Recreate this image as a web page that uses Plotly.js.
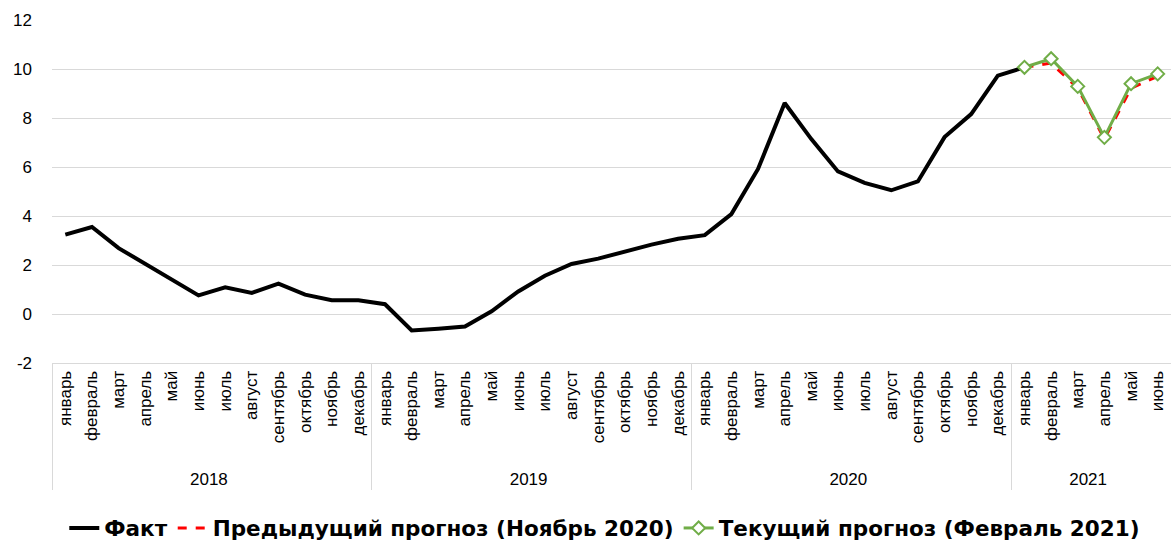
<!DOCTYPE html>
<html>
<head>
<meta charset="utf-8">
<script src="https://cdn.plot.ly/plotly-3.0.1.min.js"></script>
<style>html,body{margin:0;padding:0;background:#fff;}#chart{width:1171px;height:541px;}</style>
</head>
<body>
<div id="chart"></div>
<script>
const years = ['2018', '2019', '2020', '2021'];
const months = ['январь','февраль','март','апрель','май','июнь','июль','август','сентябрь','октябрь','ноябрь','декабрь'];
const monthsPerYear = [12, 12, 12, 6];
const yTickVals = [-2, 0, 2, 4, 6, 8, 10, 12];
const yTickText = ['-2', '0', '2', '4', '6', '8', '10', '12'];

// Факт: январь 2018 – январь 2021
const fact = [3.24,3.55,2.69,2.05,1.40,0.76,1.09,0.86,1.24,0.79,0.56,0.56,
              0.40,-0.67,-0.60,-0.51,0.11,0.92,1.56,2.04,2.26,2.56,2.83,3.07,
              3.22,4.08,5.92,8.61,7.14,5.82,5.35,5.05,5.41,7.22,8.16,9.73,
              10.07];
// Прогнозы: январь – июнь 2021
const prevForecast = [10.07,10.24,9.22,7.14,9.22,9.70];
const curForecast  = [10.07,10.42,9.29,7.21,9.40,9.80];

// padding (non-breaking spaces) keeps the year row at the reference distance
const pad = '\u00A0\u00A0';
const yearLabels = [], monthLabels = [];
years.forEach((y, i) => {
  for (let m = 0; m < monthsPerYear[i]; m++) { yearLabels.push(y); monthLabels.push(pad + months[m]); }
});
const slice = (a, b) => [yearLabels.slice(a, b), monthLabels.slice(a, b)];
const fcStart = 36;

const traces = [
  {x: [yearLabels, monthLabels], y: yearLabels.map(() => null), type: 'scatter', mode: 'lines',
   showlegend: false, hoverinfo: 'skip'},
  {x: slice(0, fact.length), y: fact, type: 'scatter', mode: 'lines', name: 'Факт',
   line: {color: '#000000', width: 4}},
  {x: slice(fcStart, fcStart + prevForecast.length), y: prevForecast, type: 'scatter', mode: 'lines',
   name: 'Предыдущий прогноз (Ноябрь 2020)', line: {color: '#ff0000', width: 3, dash: 'dash'}},
  {x: slice(fcStart, fcStart + curForecast.length), y: curForecast, type: 'scatter', mode: 'lines+markers',
   name: 'Текущий прогноз (Февраль 2021)', line: {color: '#70ad47', width: 3},
   marker: {symbol: 'diamond', size: 10, color: '#ffffff', line: {color: '#70ad47', width: 2}}}
];

const layout = {
  width: 1171, height: 541,
  margin: {l: 52, r: 0, t: 20, b: 178, autoexpand: false},
  paper_bgcolor: '#fff', plot_bgcolor: '#fff',
  font: {family: 'Liberation Sans, Arial, sans-serif', size: 17, color: '#000'},
  xaxis: {
    type: 'multicategory', range: [-0.5, 41.5], tickangle: -90,
    showgrid: false, showline: true, linecolor: '#d9d9d9', linewidth: 1,
    showdividers: true, dividercolor: '#d9d9d9', dividerwidth: 1,
    tickfont: {size: 17, color: '#000'}, ticks: ''
  },
  yaxis: {
    range: [-2, 12], tickvals: yTickVals, ticktext: yTickText,
    showgrid: true, gridcolor: '#d9d9d9', gridwidth: 1,
    zeroline: false, showline: false, ticks: '', ticklabelstandoff: 19,
    tickfont: {size: 17, color: '#000'}
  },
  showlegend: true,
  legend: {orientation: 'h', x: 0.494, xanchor: 'center', y: -0.481, yanchor: 'middle',
    font: {family: 'DejaVu Sans, sans-serif', size: 21.5, color: '#000', weight: 'bold'},
    itemwidth: 30, tracegroupgap: 0}
};

Plotly.newPlot('chart', traces, layout, {displayModeBar: false, staticPlot: true});
</script>
</body>
</html>
